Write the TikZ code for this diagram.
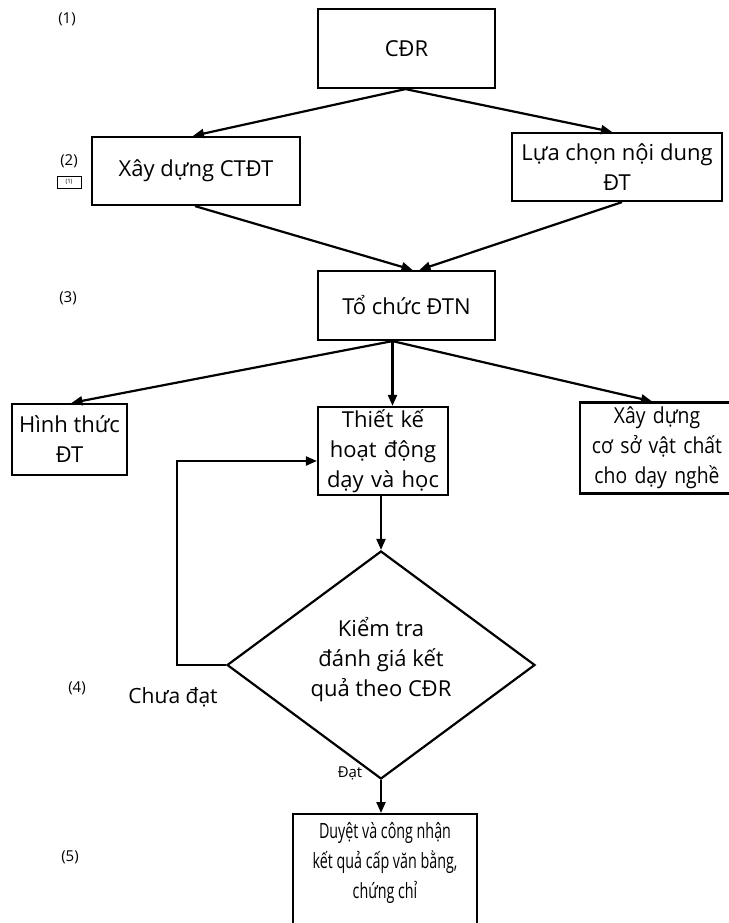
\documentclass[tikz,border=0pt]{standalone}
\usepackage{fontspec}
\setmainfont{Open Sans}
\newfontfamily\condfont[FakeStretch=0.68]{Open Sans}
\newfontfamily\semicond[FakeStretch=0.88]{Open Sans}
\usetikzlibrary{arrows.meta,shapes.geometric,calc}
\tikzset{
  box/.style={draw,line width=2.2pt,align=center,inner sep=2pt,font=\fontsize{22}{30}\selectfont},
  arr/.style={line width=2.2pt,-{Triangle[length=11pt,width=9pt]}},
  lbl/.style={font=\fontsize{15}{17}\selectfont,inner sep=0pt},
}
\begin{document}
\begin{tikzpicture}[x=1pt,y=-1pt]
\useasboundingbox[fill=white] (0,0) rectangle (728,923);
% boxes
\node[box,minimum width=177pt,minimum height=79pt] (cdr) at (406.5,48.5) {CĐR};
\node[box,minimum width=208pt,minimum height=68pt] (ctdt) at (196,171) {Xây dựng CTĐT};
\node[box,minimum width=210pt,minimum height=68pt] (lc) at (617,167) {Lựa chọn nội dung\\ĐT};
\node[box,minimum width=177pt,minimum height=69pt] (tc) at (406.5,305.5) {Tổ chức ĐTN};
\node[box,minimum width=115pt,minimum height=71pt] (ht) at (69.5,439.5) {Hình thức\\ĐT};
\node[box,minimum width=130pt,minimum height=88pt,text width=126pt] (tk) at (383,451) {Thiết kế\\hoạt động\\dạy và học};
\node[box,minimum width=150pt,minimum height=91pt,text width=150pt,font=\semicond\fontsize{22}{30}\selectfont] (csvc) at (657,448) {Xây dựng\\cơ sở vật chất\\cho dạy nghề};
\node[draw,diamond,line width=2.2pt,minimum width=308pt,minimum height=228pt,inner sep=0pt] (kt) at (381,665) {};
\node[align=center,font=\fontsize{22}{30}\selectfont] (kttext) at (381,660) {Kiểm tra\\đánh giá kết\\quả theo CĐR};
\node[draw,line width=2.2pt,minimum width=184pt,minimum height=118pt,anchor=north,inner sep=0pt] (dc) at (385,813) {};
\node[align=center,font=\condfont\fontsize{21}{30}\selectfont,anchor=north] (dctext) at (385,819) {Duyệt và công nhận\\kết quả cấp văn bằng,\\chứng chỉ};
% labels
\node[lbl] (l1) at (67,19) {(1)};
\node[lbl] (l2) at (69,161) {(2)};
\node[draw,line width=0.7pt,minimum width=24pt,minimum height=12pt,inner sep=0pt,font=\fontsize{6}{7}\selectfont] (l2b) at (69,182) {(1)};
\node[lbl] (l3) at (68,298) {(3)};
\node[lbl] (l4) at (77,688) {(4)};
\node[lbl] (l5) at (70,857) {(5)};
\node[font=\fontsize{21}{24}\selectfont,inner sep=0pt] (chua) at (173,697) {Chưa đạt};
\node[font=\fontsize{15}{17}\selectfont,inner sep=0pt] (dat) at (350,773) {Đạt};
% connectors
\coordinate (cdrb) at ($(cdr.south)+(-1,0)$);
\draw[arr] (cdrb) -- ($(ctdt.north)+(-3,0)$);
\draw[arr] (cdrb) -- ($(lc.north)+(-5,0)$);
\draw[arr] ($(ctdt.south)+(-1,0)$) -- ($(tc.north)+(6,0)$);
\draw[arr] ($(lc.south)+(5,0)$) -- ($(tc.north)+(13,0)$);
\coordinate (tcb) at ($(tc.south)+(-14,0)$);
\draw[arr] (tcb) -- ($(ht.north)+(2,0)$);
\draw[arr] (tcb) -- (tcb |- tk.north);
\draw[arr] (tcb) -- ($(csvc.north)+(-5,0)$);
\draw[arr] (tk.south -| kt.north) -- (kt.north);
\draw[arr] (kt.south) -- (kt.south |- dc.north);
\draw[arr] (kt.west) -- ++(-49,0) |- ([yshift=-10pt]tk.west);
\end{tikzpicture}
\end{document}
